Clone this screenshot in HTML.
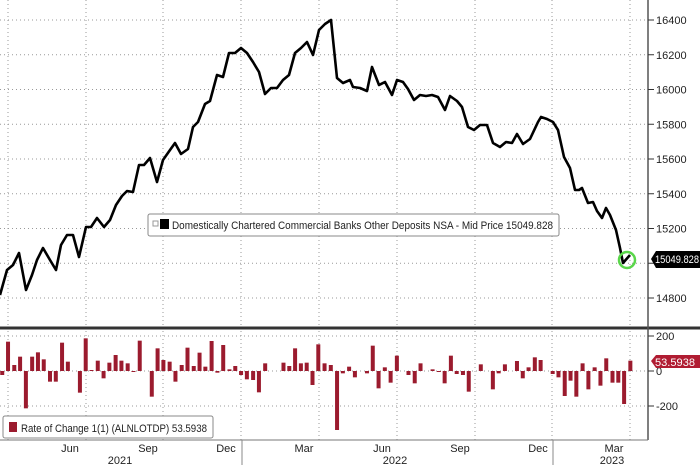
<!DOCTYPE html>
<html><head><meta charset="utf-8"><style>
html,body{margin:0;padding:0;background:#fff;}
svg{display:block;font-family:"Liberation Sans",sans-serif;}
</style></head><body>
<svg id="s" width="700" height="465" viewBox="0 0 700 465" xmlns="http://www.w3.org/2000/svg">
<rect width="700" height="465" fill="#fff"/>
<g id="grid" stroke="#999" stroke-width="1" stroke-dasharray="1,3"></g>
<g id="bars" fill="#9b1b2e"></g>
<polyline id="line" fill="none" stroke="#000" stroke-width="2.6" stroke-linejoin="round"/>
<circle cx="627" cy="260" r="8" fill="none" stroke="#5ad64a" stroke-width="2.5"/>
<line x1="0" y1="328" x2="700" y2="328" stroke="#333" stroke-width="3"/>
<line x1="648" y1="0" x2="648" y2="440" stroke="#555" stroke-width="1.5"/>
<line x1="0" y1="440" x2="648" y2="440" stroke="#777" stroke-width="1"/>
<g id="ticks" stroke="#333" stroke-width="1"></g>
<g font-size="11" fill="#222" id="ylab"></g>
<rect x="148" y="214" width="411" height="22" rx="2" fill="#fff" stroke="#888"/>
<rect x="153" y="221" width="5" height="5" fill="none" stroke="#999"/>
<rect x="160" y="219" width="9" height="10" fill="#000"/>
<text x="172" y="229" font-size="11" fill="#222" textLength="381" lengthAdjust="spacingAndGlyphs">Domestically Chartered Commercial Banks Other Deposits NSA - Mid Price 15049.828</text>
<rect x="3" y="416" width="210" height="22" rx="2" fill="#fff" stroke="#888"/>
<rect x="9" y="422" width="8" height="10" fill="#9b1b2e"/>
<text x="21" y="432" font-size="11" fill="#222" textLength="186" lengthAdjust="spacingAndGlyphs">Rate of Change 1(1) (ALNLOTDP) 53.5938</text>
<path d="M651 259 L656 251 H700 V268 H656 Z" fill="#000"/>
<text x="655" y="263" font-size="11" fill="#fff" textLength="44" lengthAdjust="spacingAndGlyphs">15049.828</text>
<path d="M651 361 L656 355 H700 V368 H656 Z" fill="#b01c32"/>
<text x="655" y="366" font-size="11" fill="#fff" textLength="40" lengthAdjust="spacingAndGlyphs">53.5938</text>
<g font-size="11" fill="#222" text-anchor="middle">
<text x="70" y="452">Jun</text><text x="148" y="452">Sep</text><text x="226" y="452">Dec</text><text x="304" y="452">Mar</text><text x="382" y="452">Jun</text><text x="460" y="452">Sep</text><text x="538" y="452">Dec</text><text x="614" y="452">Mar</text>
<text x="120" y="464">2021</text><text x="395" y="464">2022</text><text x="612" y="464">2023</text>
</g>
<line x1="242" y1="440" x2="242" y2="465" stroke="#888"/>
<line x1="553" y1="440" x2="553" y2="465" stroke="#888"/>
</svg>
<script>
var NS="http://www.w3.org/2000/svg";
function el(p,t,a){var e=document.createElementNS(NS,t);for(var k in a)e.setAttribute(k,a[k]);document.getElementById(p).appendChild(e);return e;}
var vx=[8,86,163,241,319,397,475,552,630];
vx.forEach(function(x){el("grid","line",{x1:x,y1:0,x2:x,y2:325});el("grid","line",{x1:x,y1:331,x2:x,y2:440});});
for(var v=14800;v<=16400;v+=200){var y=20+(16400-v)*0.17375;
 el("grid","line",{x1:0,y1:y,x2:647,y2:y});
 el("ticks","line",{x1:648,y1:y,x2:654,y2:y});
 var t=el("ylab","text",{x:656,y:y+4});t.textContent=v;}
[336,371,406].forEach(function(y,i){el("grid","line",{x1:0,y1:y,x2:647,y2:y});el("ticks","line",{x1:648,y1:y,x2:654,y2:y});
 var t=el("ylab","text",{x:656,y:y+4});t.textContent=["200","0","-200"][i];});
var pts=[[0,295],[7,270],[13,265],[19,253],[26,290],[32,275],[37,260],[43,248],[50,260],[56,270],[61,245],[67,235],[73,235],[79,257],[86,227],[91,227],[97,218],[104,227],[110,220],[116,205],[122,196],[127,191],[133,192],[139,165],[144,165],[150,158],[157,182],[163,160],[170,150],[175,143],[181,154],[188,149],[193,127],[198,122],[205,104],[210,101],[217,75],[223,77],[229,53],[235,53],[241,48],[247,53],[253,62],[259,72],[265,94],[271,88],[277,88],[283,80],[289,75],[295,53],[301,48],[307,42],[313,55],[319,30],[325,24],[331,20],[337,78],[343,83],[350,80],[353,87],[360,88],[367,91],[372,67],[379,85],[385,82],[392,95],[397,80],[403,82],[408,89],[414,100],[420,95],[426,96],[432,95],[438,97],[445,110],[450,96],[457,101],[462,107],[468,127],[474,130],[480,125],[487,125],[493,143],[500,147],[506,142],[512,143],[517,134],[523,144],[530,139],[538,122],[541,117],[547,119],[553,122],[558,130],[564,157],[570,168],[575,190],[579,190],[582,188],[588,203],[593,202],[597,211],[602,218],[606,208],[610,215],[616,230],[620,248],[623,263],[630,255]];
document.getElementById("line").setAttribute("points",pts.map(function(p){return p.join(",")}).join(" "));
var b=[[5,165],[18,65],[32,135],[45,110],[58,265],[72,110],[85,97],[98,118],[112,185],[125,185],[139,68],[152,125],[179,218],[192,55],[205,150],[219,122],[232,175],[245,128],[259,105],[272,122],[286,130],[299,155],[313,62],[340,230],[353,85],[366,120],[380,125],[393,185],[407,135],[420,83],[434,138],[447,98],[460,140],[474,63],[487,158],[500,75],[514,148],[527,138],[540,165],[553,178],[567,180],[580,217],[594,130],[635,128],[648,138],[661,85],[674,130],[687,128],[700,195],[713,73],[727,130],[741,135],[755,330],[768,160],[782,140],[795,172],[822,160],[835,77],[848,205],[862,142],[875,188],[889,107],[915,165],[929,190],[942,130],[969,148],[983,155],[996,190],[1010,107],[1023,162],[1037,165],[1050,215],[1077,133],[1104,208],[1117,160],[1131,133],[1158,123],[1171,175],[1184,142],[1198,112],[1211,120],[1238,162],[1251,172],[1265,228],[1278,182],[1291,230],[1305,130],[1318,208],[1332,142],[1345,197],[1358,115],[1372,188],[1385,188],[1398,252],[1412,122]];
b.forEach(function(p){var x=p[0]/2.24,y=320+p[1]/3;var y0=371;
 el("bars","rect",{x:x-2,y:Math.min(y,y0),width:4,height:Math.max(1,Math.abs(y-y0))});});
</script>
</body></html>
